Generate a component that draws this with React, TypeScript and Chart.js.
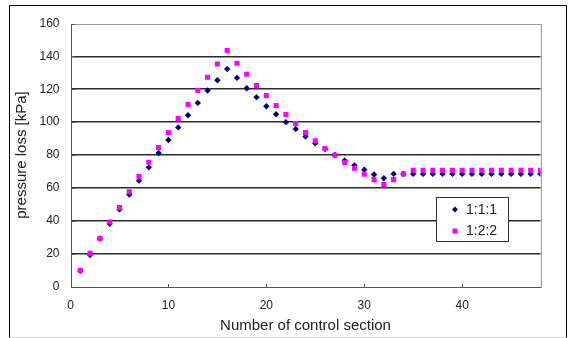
import React, { useEffect, useRef } from 'react';
import { Chart, registerables } from 'chart.js';

Chart.register(...registerables);

const sections = [
  1, 2, 3, 4, 5, 6, 7, 8, 9, 10, 11, 12, 13, 14, 15, 16, 17, 18, 19, 20, 21, 22, 23, 24,
  25, 26, 27, 28, 29, 30, 31, 32, 33, 34, 35, 36, 37, 38, 39, 40, 41, 42, 43, 44, 45, 46, 47, 48,
];

const series111 = [
  9.5, 19.2, 29.1, 38.2, 46.9, 56, 64.4, 72.5, 81.2, 89.1, 96.8, 104.2, 111.7, 119.2, 125.5, 132.3,
  126.9, 120.6, 115.2, 109.7, 104.8, 100, 95.8, 91.3, 87.1, 83.6, 80, 76.6, 73.7, 71.1, 68.1, 65.9,
  68.5, 68.5, 68.5, 68.5, 68.5, 68.5, 68.5, 68.5, 68.5, 68.5, 68.5, 68.5, 68.5, 68.5, 68.5, 68.5,
];

const series122 = [
  9.9, 20.2, 29.3, 39.2, 48.1, 57.6, 66.9, 75.6, 84.6, 93.7, 102.2, 110.7, 119.2, 127.3, 135.4, 143.6,
  135.8, 129.1, 122.2, 116.2, 110.1, 104.6, 99.2, 93.7, 88.7, 84, 79.8, 75.4, 71.9, 68.3, 65, 62,
  65, 68.5, 70.7, 70.7, 70.7, 70.7, 70.7, 70.7, 70.7, 70.7, 70.7, 70.7, 70.7, 70.7, 70.7, 70.7,
];

const seriesLabels = ['1:1:1', '1:2:2'];
const xTickValues = [0, 10, 20, 30, 40];
const yTickValues = [0, 20, 40, 60, 80, 100, 120, 140, 160];
const xTitle = 'Number of control section';
const yTitle = 'pressure loss [kPa]';

const NAVY = '#000080';
const MAGENTA = '#FF00FF';
const FONT = 'Liberation Sans';

const framePlugin = {
  id: 'frameDecor',
  beforeDraw(chart: any) {
    const { ctx, width, height } = chart;
    ctx.save();
    ctx.fillStyle = '#ffffff';
    ctx.fillRect(0, 0, width, height);
    ctx.lineWidth = 1;
    ctx.strokeStyle = '#000000';
    ctx.beginPath();
    ctx.moveTo(9.5, height);
    ctx.lineTo(9.5, 5.5);
    ctx.lineTo(566.5, 5.5);
    ctx.lineTo(566.5, height);
    ctx.stroke();
    ctx.strokeStyle = '#d8d8d8';
    ctx.beginPath();
    ctx.moveTo(9.5, 337.5);
    ctx.lineTo(566.5, 337.5);
    ctx.stroke();
    ctx.restore();
  },
  beforeDatasetsDraw(chart: any) {
    const { ctx, chartArea } = chart;
    const { left, right, top, bottom } = chartArea;
    const xs = chart.scales.x;
    const ys = chart.scales.y;
    ctx.save();
    ctx.lineWidth = 1;
    ctx.strokeStyle = '#9a9a9a';
    ctx.beginPath();
    ctx.moveTo(Math.round(left) + 0.5, Math.round(top) + 0.5);
    ctx.lineTo(Math.round(right) + 0.5, Math.round(top) + 0.5);
    ctx.lineTo(Math.round(right) + 0.5, Math.round(bottom) + 0.5);
    ctx.stroke();
    ctx.strokeStyle = '#555555';
    ctx.beginPath();
    ctx.moveTo(Math.round(left) + 0.5, Math.round(top) + 0.5);
    ctx.lineTo(Math.round(left) + 0.5, Math.round(bottom) + 0.5);
    ctx.lineTo(Math.round(right) + 0.5, Math.round(bottom) + 0.5);
    ctx.stroke();
    ctx.beginPath();
    xTickValues.forEach((v) => {
      const px = Math.round(xs.getPixelForValue(v)) + 0.5;
      ctx.moveTo(px, Math.round(bottom));
      ctx.lineTo(px, Math.round(bottom) - 3);
    });
    yTickValues.forEach((v) => {
      const py = Math.round(ys.getPixelForValue(v)) + 0.5;
      ctx.moveTo(Math.round(left), py);
      ctx.lineTo(Math.round(left) + 4, py);
    });
    ctx.stroke();
    ctx.restore();
  },
  afterDraw(chart: any) {
    const { ctx } = chart;
    ctx.save();
    const bx = 436.5, by = 197.5, bw = 72, bh = 44;
    ctx.fillStyle = '#ffffff';
    ctx.fillRect(bx, by, bw, bh);
    ctx.strokeStyle = '#333333';
    ctx.lineWidth = 1;
    ctx.strokeRect(bx, by, bw, bh);
    ctx.fillStyle = NAVY;
    ctx.beginPath();
    ctx.moveTo(455, 206.5);
    ctx.lineTo(458, 209.5);
    ctx.lineTo(455, 212.5);
    ctx.lineTo(452, 209.5);
    ctx.closePath();
    ctx.fill();
    ctx.fillStyle = MAGENTA;
    ctx.fillRect(452.5, 228.5, 5, 5);
    ctx.fillStyle = '#222222';
    ctx.font = `14px "${FONT}"`;
    ctx.textBaseline = 'middle';
    ctx.textAlign = 'left';
    ctx.fillText(seriesLabels[0], 466, 210);
    ctx.fillText(seriesLabels[1], 466, 231.5);
    ctx.restore();
  },
};

export default function App() {
  const canvasRef = useRef<HTMLCanvasElement | null>(null);

  useEffect(() => {
    const canvas = canvasRef.current;
    if (!canvas) return;
    const toPoints = (vals: number[]) => vals.map((v, i) => ({ x: sections[i], y: v }));
    const chart = new Chart(canvas, {
      type: 'scatter',
      data: {
        datasets: [
          {
            label: seriesLabels[0],
            data: toPoints(series111),
            pointStyle: 'rectRot',
            pointRadius: 3.2,
            backgroundColor: NAVY,
            borderColor: NAVY,
            borderWidth: 0,
            order: 2,
          },
          {
            label: seriesLabels[1],
            data: toPoints(series122),
            pointStyle: 'rect',
            pointRadius: 3.6,
            backgroundColor: MAGENTA,
            borderColor: MAGENTA,
            borderWidth: 0,
            order: 1,
          },
        ],
      },
      options: {
        animation: false,
        responsive: false,
        maintainAspectRatio: false,
        layout: { padding: { left: 0, top: 23.5, right: 29.5, bottom: 0 } },
        plugins: {
          legend: { display: false },
          tooltip: { enabled: false },
        },
        scales: {
          x: {
            type: 'linear',
            min: 0,
            max: 48,
            afterBuildTicks: (scale: any) => {
              scale.ticks = xTickValues.map((v) => ({ value: v }));
            },
            afterFit: (scale: any) => {
              scale.height = 51.5;
            },
            grid: { display: false, drawTicks: false },
            border: { display: false },
            ticks: {
              padding: 12,
              color: '#222222',
              font: { family: FONT, size: 12 },
              maxRotation: 0,
              autoSkip: false,
            },
            title: {
              display: true,
              text: xTitle,
              color: '#222222',
              font: { family: FONT, size: 15 },
              padding: { top: 0, bottom: 3 },
            },
          },
          y: {
            type: 'linear',
            min: 0,
            max: 160,
            afterBuildTicks: (scale: any) => {
              scale.ticks = yTickValues.map((v) => ({ value: v }));
            },
            afterFit: (scale: any) => {
              scale.width = 70.5;
            },
            grid: {
              drawTicks: false,
              lineWidth: 1.6,
              color: (c: any) =>
                c.tick && (c.tick.value === 0 || c.tick.value === 160) ? 'rgba(0,0,0,0)' : '#2a2a2a',
            },
            border: { display: false },
            ticks: {
              padding: 11,
              color: '#222222',
              font: { family: FONT, size: 12 },
              autoSkip: false,
            },
            title: {
              display: true,
              text: yTitle,
              color: '#222222',
              font: { family: FONT, size: 15 },
              padding: { top: 13, bottom: 0 },
            },
          },
        },
      },
      plugins: [framePlugin],
    });
    return () => chart.destroy();
  }, []);

  return (
    <div style={{ position: 'fixed', left: 0, top: 0, width: 570, height: 338, background: '#fff' }}>
      <canvas ref={canvasRef} width={570} height={338} style={{ display: 'block', width: 570, height: 338 }} />
    </div>
  );
}
